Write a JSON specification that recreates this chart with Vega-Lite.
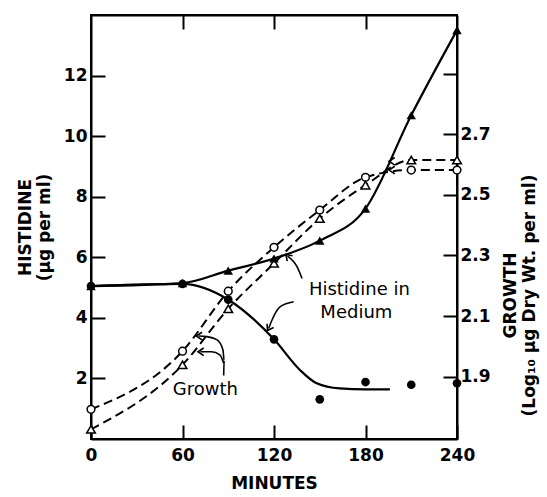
{
  "$schema": "https://vega.github.io/schema/vega-lite/v6.json",
  "width": 366,
  "height": 424,
  "autosize": {"type": "none"},
  "padding": {"left": 91, "top": 15, "right": 90, "bottom": 58},
  "background": "white",
  "config": {
    "view": {"stroke": "black", "strokeWidth": 2},
    "font": "DejaVu Sans",
    "axis": {
      "domainColor": "black", "domainWidth": 2,
      "tickColor": "black", "tickWidth": 2, "tickSize": -14,
      "labelPadding": 20, "labelColor": "black", "labelFontSize": 17,
      "labelFont": "DejaVu Sans", "titleFont": "DejaVu Sans", "titleColor": "black",
      "grid": false, "labelFlush": false, "labelOverlap": false
    }
  },
  "datasets": {
    "tri": [
      {"min": 0, "val": 5.05}, {"min": 60, "val": 5.15}, {"min": 90, "val": 5.56},
      {"min": 120, "val": 5.96}, {"min": 150, "val": 6.55}, {"min": 180, "val": 7.61},
      {"min": 210, "val": 10.69}, {"min": 240, "val": 13.5}
    ],
    "circ": [
      {"min": 0, "val": 5.05}, {"min": 60, "val": 5.12}, {"min": 90, "val": 4.6},
      {"min": 120, "val": 3.29}, {"min": 150, "val": 1.31}, {"min": 180, "val": 1.88},
      {"min": 210, "val": 1.79}, {"min": 240, "val": 1.84}
    ],
    "fit": [
      {"min": 0, "val": 5.05}, {"min": 60, "val": 5.12}, {"min": 90, "val": 4.6},
      {"min": 120, "val": 3.29}, {"min": 137, "val": 2.28}, {"min": 148, "val": 1.84},
      {"min": 163, "val": 1.67}, {"min": 180, "val": 1.64}, {"min": 196, "val": 1.64}
    ],
    "ocirc": [
      {"min": 0, "val": 0.98}, {"min": 60, "val": 2.9}, {"min": 90, "val": 4.88},
      {"min": 120, "val": 6.33}, {"min": 150, "val": 7.56}, {"min": 180, "val": 8.64},
      {"min": 210, "val": 8.88}, {"min": 240, "val": 8.88}
    ],
    "otri": [
      {"min": 0, "val": 0.32}, {"min": 60, "val": 2.45}, {"min": 90, "val": 4.3},
      {"min": 120, "val": 5.8}, {"min": 150, "val": 7.28}, {"min": 180, "val": 8.38},
      {"min": 210, "val": 9.21}, {"min": 240, "val": 9.21}
    ],
    "arrows": [
      {"id": "g1", "ord": 1, "min": 87, "val": 2.1},
      {"id": "g1", "ord": 2, "min": 87.3, "val": 2.6},
      {"id": "g1", "ord": 3, "min": 86.5, "val": 2.95},
      {"id": "g1", "ord": 4, "min": 82.5, "val": 3.28},
      {"id": "g1", "ord": 5, "min": 76, "val": 3.38},
      {"id": "g1", "ord": 6, "min": 70.6, "val": 3.4},
      {"id": "g2", "ord": 1, "min": 87, "val": 2.5},
      {"id": "g2", "ord": 2, "min": 84.5, "val": 2.78},
      {"id": "g2", "ord": 3, "min": 79, "val": 2.88},
      {"id": "g2", "ord": 4, "min": 71.7, "val": 2.88},
      {"id": "h1", "ord": 1, "min": 138.4, "val": 5.3},
      {"id": "h1", "ord": 2, "min": 135.1, "val": 5.69},
      {"id": "h1", "ord": 3, "min": 128.9, "val": 6.04},
      {"id": "h2", "ord": 1, "min": 132.9, "val": 4.53},
      {"id": "h2", "ord": 2, "min": 124.1, "val": 4.37},
      {"id": "h2", "ord": 3, "min": 118.7, "val": 3.93},
      {"id": "h2", "ord": 4, "min": 116.5, "val": 3.65}
    ],
    "headsLeft": [
      {"min": 70.6, "val": 3.4}, {"min": 71.7, "val": 2.88},
      {"min": 197, "val": 9.17}, {"min": 197, "val": 8.88}
    ],
    "headsUp": [{"min": 128.9, "val": 6.04}],
    "headsDown": [{"min": 116.5, "val": 3.65}],
    "notes": [
      {"min": 176, "val": 4.92, "text": "Histidine in"},
      {"min": 174, "val": 4.15, "text": "Medium"},
      {"min": 75, "val": 1.62, "text": "Growth"}
    ]
  },
  "layer": [
    {
      "encoding": {
        "x": {
          "field": "min", "type": "quantitative",
          "scale": {"domain": [0, 240], "nice": false, "zero": false},
          "axis": {"values": [0, 60, 120, 180, 240], "title": "MINUTES", "titleFontSize": 17, "titleFontWeight": "bold", "labelPadding": 22, "titlePadding": 12, "labelFontWeight": "bold"}
        },
        "y": {
          "field": "val", "type": "quantitative",
          "scale": {"domain": [0, 14], "nice": false, "zero": false},
          "axis": {"values": [2, 4, 6, 8, 10, 12], "title": ["HISTIDINE", "(µg per ml)"], "titleFontSize": 17, "titleFontWeight": "bold", "labelPadding": 18, "titlePadding": 10, "labelFontWeight": "bold"}
        }
      },
      "layer": [
        {"data": {"name": "ocirc"}, "mark": {"type": "line", "color": "black", "strokeWidth": 2, "strokeDash": [9, 5], "interpolate": "monotone"}},
        {"data": {"name": "otri"}, "mark": {"type": "line", "color": "black", "strokeWidth": 2, "strokeDash": [9, 5], "interpolate": "monotone"}},
        {"data": {"name": "tri"}, "mark": {"type": "line", "color": "black", "strokeWidth": 2.2, "interpolate": "monotone"}},
        {"data": {"name": "fit"}, "mark": {"type": "line", "color": "black", "strokeWidth": 2.2, "interpolate": "monotone"}},
        {"data": {"name": "arrows"}, "mark": {"type": "line", "color": "black", "strokeWidth": 1.6, "interpolate": "monotone"}, "encoding": {"detail": {"field": "id"}, "order": {"field": "ord"}}},
        {"data": {"name": "headsLeft"}, "mark": {"type": "point", "shape": "M 0.7 -0.8 L -0.5 0 L 0.7 0.8", "filled": false, "color": "black", "strokeWidth": 1.6, "size": 90, "opacity": 1}},
        {"data": {"name": "headsUp"}, "mark": {"type": "point", "shape": "M 0.7 -0.8 L -0.5 0 L 0.7 0.8", "filled": false, "color": "black", "strokeWidth": 1.6, "size": 90, "angle": 45, "opacity": 1}},
        {"data": {"name": "headsDown"}, "mark": {"type": "point", "shape": "M 0.7 -0.8 L -0.5 0 L 0.7 0.8", "filled": false, "color": "black", "strokeWidth": 1.6, "size": 90, "angle": 300, "opacity": 1}},
        {"data": {"name": "ocirc"}, "mark": {"type": "point", "shape": "circle", "filled": true, "fill": "white", "stroke": "black", "strokeWidth": 1.5, "size": 60, "opacity": 1}},
        {"data": {"name": "otri"}, "mark": {"type": "point", "shape": "triangle-up", "filled": true, "fill": "white", "stroke": "black", "strokeWidth": 1.5, "size": 75, "opacity": 1}},
        {"data": {"name": "circ"}, "mark": {"type": "point", "shape": "circle", "filled": true, "color": "black", "size": 75, "opacity": 1}},
        {"data": {"name": "tri"}, "mark": {"type": "point", "shape": "triangle-up", "filled": true, "color": "black", "size": 90, "opacity": 1}},
        {"data": {"name": "notes"}, "mark": {"type": "text", "fontSize": 18, "color": "black", "font": "DejaVu Sans"}, "encoding": {"text": {"field": "text"}}}
      ]
    },
    {
      "data": {"values": [{"min": 0, "g": 2.0}]},
      "mark": {"type": "point", "opacity": 0},
      "encoding": {
        "x": {
          "field": "min", "type": "quantitative",
          "scale": {"domain": [0, 240], "nice": false, "zero": false},
          "axis": {"orient": "top", "values": [60, 120, 180], "labels": false, "title": null}
        },
        "y": {
          "field": "g", "type": "quantitative",
          "scale": {"domain": [1.694, 3.094], "nice": false, "zero": false},
          "axis": {"orient": "right", "values": [1.9, 2.1, 2.3, 2.5, 2.7, 2.9], "labelExpr": "datum.value > 2.8 ? '' : format(datum.value, '.1f')", "title": ["GROWTH", "(Log₁₀ µg Dry Wt. per ml)"], "titleAngle": 270, "titleFontSize": 17, "titleFontWeight": "bold", "titleY": 280, "labelPadding": 17, "titlePadding": 10, "labelFontWeight": "bold"}
        }
      }
    }
  ],
  "resolve": {"scale": {"y": "independent"}, "axis": {"x": "independent", "y": "independent"}}
}
